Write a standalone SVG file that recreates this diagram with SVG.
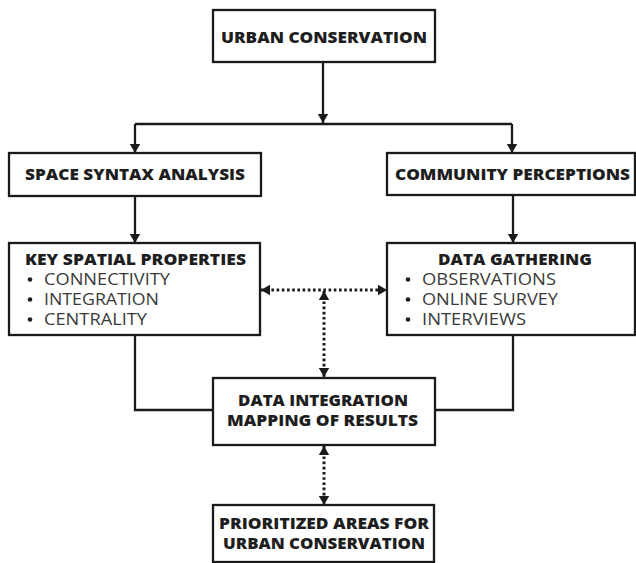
<svg xmlns="http://www.w3.org/2000/svg" width="636" height="563" viewBox="0 0 636 563">
<style>
.box{fill:#fff;stroke:#1a1a1a;stroke-width:2.3}
.t{font-family:"Open Sans","Liberation Sans",sans-serif;font-weight:800;font-size:15.5px;fill:#1e1e1e;text-anchor:middle}
.b{font-family:"Open Sans","Liberation Sans",sans-serif;font-weight:400;font-size:15.5px;fill:#3a3a3a}
.dot{fill:#1e1e1e}
.ln{fill:none;stroke:#1a1a1a;stroke-width:2.3}
.dl{fill:none;stroke:#1a1a1a;stroke-width:3;stroke-dasharray:2.6 2.6}
</style>
<defs>
<marker id="ah" markerUnits="userSpaceOnUse" markerWidth="12" markerHeight="12" viewBox="0 0 12 12" refX="11" refY="6" orient="auto-start-reverse">
<path d="M2,0.8 L11,6 L2,11.2 Z" fill="#1a1a1a"/>
</marker>
</defs>
<g id="connectors">
<path class="ln" d="M323,62 V123" marker-end="url(#ah)"/>
<path class="ln" d="M135,124 H512"/>
<path class="ln" d="M135,124 V153" marker-end="url(#ah)"/>
<path class="ln" d="M512,124 V153" marker-end="url(#ah)"/>
<path class="ln" d="M135,196 V243" marker-end="url(#ah)"/>
<path class="ln" d="M513,195 V243" marker-end="url(#ah)"/>
<path class="ln" d="M135,335 V410 H213"/>
<path class="ln" d="M513,335 V410 H435"/>
<path class="dl" d="M261,290 H387" marker-start="url(#ah)" marker-end="url(#ah)"/>
<path class="dl" d="M324,291 V377" marker-start="url(#ah)" marker-end="url(#ah)"/>
<path class="dl" d="M324,446 V505" marker-start="url(#ah)" marker-end="url(#ah)"/>
</g>
<g id="urban-conservation">
<rect class="box" x="213" y="10" width="222" height="52"/>
<text class="t" x="324" y="43" textLength="206" lengthAdjust="spacingAndGlyphs">URBAN CONSERVATION</text>
</g>
<g id="space-syntax">
<rect class="box" x="9" y="153" width="252" height="43"/>
<text class="t" x="135" y="180" textLength="220" lengthAdjust="spacingAndGlyphs">SPACE SYNTAX ANALYSIS</text>
</g>
<g id="community-perceptions">
<rect class="box" x="387" y="153" width="248" height="42"/>
<text class="t" x="512.5" y="180" textLength="235" lengthAdjust="spacingAndGlyphs">COMMUNITY PERCEPTIONS</text>
</g>
<g id="key-spatial">
<rect class="box" x="9" y="243" width="251" height="92"/>
<text class="t" x="135.5" y="265" textLength="221" lengthAdjust="spacingAndGlyphs">KEY SPATIAL PROPERTIES</text>
<circle class="dot" cx="30" cy="279.5" r="2.3"/>
<text class="b" x="44" y="285" textLength="126" lengthAdjust="spacingAndGlyphs">CONNECTIVITY</text>
<circle class="dot" cx="30" cy="299.5" r="2.3"/>
<text class="b" x="44" y="305" textLength="115" lengthAdjust="spacingAndGlyphs">INTEGRATION</text>
<circle class="dot" cx="30" cy="319.5" r="2.3"/>
<text class="b" x="44" y="325" textLength="103" lengthAdjust="spacingAndGlyphs">CENTRALITY</text>
</g>
<g id="data-gathering">
<rect class="box" x="387" y="243" width="248" height="92"/>
<text class="t" x="515" y="265" textLength="154" lengthAdjust="spacingAndGlyphs">DATA GATHERING</text>
<circle class="dot" cx="408" cy="279.5" r="2.3"/>
<text class="b" x="422" y="285" textLength="134" lengthAdjust="spacingAndGlyphs">OBSERVATIONS</text>
<circle class="dot" cx="408" cy="299.5" r="2.3"/>
<text class="b" x="422" y="305" textLength="136" lengthAdjust="spacingAndGlyphs">ONLINE SURVEY</text>
<circle class="dot" cx="408" cy="319.5" r="2.3"/>
<text class="b" x="422" y="325" textLength="104" lengthAdjust="spacingAndGlyphs">INTERVIEWS</text>
</g>
<g id="data-integration">
<rect class="box" x="213" y="378" width="222" height="67"/>
<text class="t" x="323" y="406" textLength="170" lengthAdjust="spacingAndGlyphs">DATA INTEGRATION</text>
<text class="t" x="322.5" y="426" textLength="191" lengthAdjust="spacingAndGlyphs">MAPPING OF RESULTS</text>
</g>
<g id="prioritized-areas">
<rect class="box" x="213" y="505" width="221" height="57"/>
<text class="t" x="324" y="529" textLength="210" lengthAdjust="spacingAndGlyphs">PRIORITIZED AREAS FOR</text>
<text class="t" x="324" y="549" textLength="202" lengthAdjust="spacingAndGlyphs">URBAN CONSERVATION</text>
</g>
</svg>
